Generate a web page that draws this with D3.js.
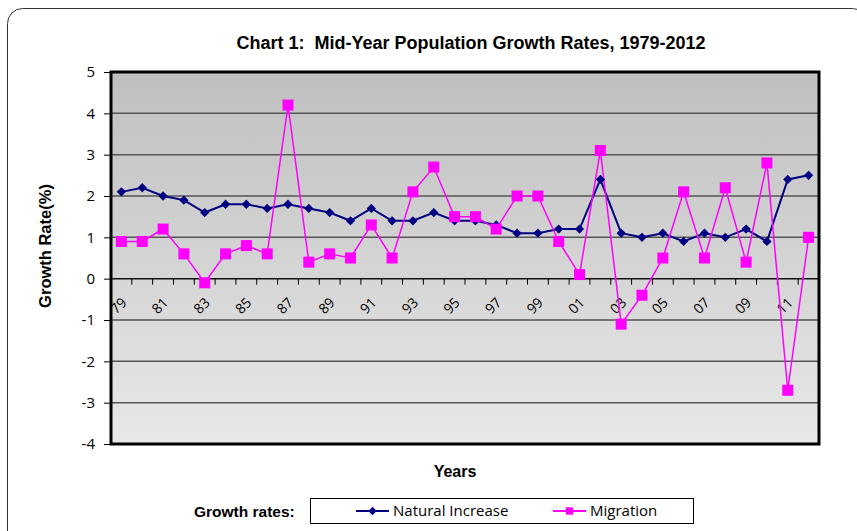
<!DOCTYPE html>
<html>
<head>
<meta charset="utf-8">
<script src="https://cdn.jsdelivr.net/npm/d3@7"></script>
<style>
  body { margin: 0; background: #fff; }
  text { font-family: "Liberation Sans", "DejaVu Sans", sans-serif; }
</style>
</head>
<body>
<div class="chart"></div>
<script>
// Årtal (etiketter) och serier
const years = ["79","80","81","82","83","84","85","86","87","88","89","90","91","92","93","94","95","96","97","98","99","00","01","02","03","04","05","06","07","08","09","10","11","12"];
const naturalIncrease = [2.1,2.2,2.0,1.9,1.6,1.8,1.8,1.7,1.8,1.7,1.6,1.4,1.7,1.4,1.4,1.6,1.4,1.4,1.3,1.1,1.1,1.2,1.2,2.4,1.1,1.0,1.1,0.9,1.1,1.0,1.2,0.9,2.4,2.5];
const migration = [0.9,0.9,1.2,0.6,-0.1,0.6,0.8,0.6,4.2,0.4,0.6,0.5,1.3,0.5,2.1,2.7,1.5,1.5,1.2,2.0,2.0,0.9,0.1,3.1,-1.1,-0.4,0.5,2.1,0.5,2.2,0.4,2.8,-2.7,1.0];
const yTicks = [-4,-3,-2,-1,0,1,2,3,4,5];
const xLabels = years.filter((d, i) => i % 2 === 0);

function createLineChart() {
    const W = 857, H = 531;
    const plot = { left: 111, right: 819, top: 72, bottom: 444 };

    const svg = d3.select("div.chart").append("svg")
        .attr("width", W)
        .attr("height", H);

    // Bakgrundsgradient
    const defs = svg.append("defs");
    const grad = defs.append("linearGradient")
        .attr("id", "bg").attr("x1", 0).attr("y1", 0).attr("x2", 0).attr("y2", 1);
    grad.append("stop").attr("offset", "0%").attr("stop-color", "#bfbfbf");
    grad.append("stop").attr("offset", "100%").attr("stop-color", "#e8e8e8");

    // Yttre ram
    svg.append("rect")
        .attr("x", 7.5).attr("y", 8.5)
        .attr("width", 860).attr("height", 540)
        .attr("rx", 15)
        .attr("fill", "none")
        .attr("stroke", "#333")
        .attr("stroke-width", 1);

    // Skalor
    const x = d3.scaleBand()
        .domain(years)
        .range([plot.left, plot.right]);

    const y = d3.scaleLinear()
        .domain([-4, 5])
        .range([plot.bottom, plot.top]);

    svg.append("rect")
        .attr("x", plot.left).attr("y", plot.top)
        .attr("width", plot.right - plot.left).attr("height", plot.bottom - plot.top)
        .attr("fill", "url(#bg)");

    // Rutnät
    svg.append("g")
        .selectAll("line")
        .data(yTicks.filter(d => d !== -4 && d !== 5))
        .enter().append("line")
        .attr("x1", plot.left).attr("x2", plot.right)
        .attr("y1", d => y(d)).attr("y2", d => y(d))
        .attr("stroke", d => d === 0 ? "#111" : "#555")
        .attr("stroke-width", 1.5);

    // y-axel
    const yAxis = svg.append("g")
        .attr("transform", `translate(${plot.left},0)`)
        .call(d3.axisLeft(y).tickValues(yTicks).tickSize(7).tickPadding(9).tickFormat(d => String(d)));
    yAxis.select(".domain").remove();
    yAxis.selectAll(".tick line").attr("stroke", "#000");
    yAxis.selectAll("text")
        .style("font-family", "'Open Sans', sans-serif")
        .style("font-size", "15px")
        .attr("fill", "#000");

    // x-axel vid noll
    const xAxis = svg.append("g")
        .attr("transform", `translate(0,${y(0)})`);
    xAxis.selectAll("line")
        .data(years.concat(["end"]))
        .enter().append("line")
        .attr("x1", (d, i) => plot.left + i * x.bandwidth())
        .attr("x2", (d, i) => plot.left + i * x.bandwidth())
        .attr("y1", 0).attr("y2", 6)
        .attr("stroke", "#000");

    xAxis.selectAll("text")
        .data(xLabels)
        .enter().append("text")
        .attr("transform", d => `translate(${x(d) + x.bandwidth() / 2 - 3},${27}) rotate(-45)`)
        .attr("text-anchor", "middle")
        .attr("dy", "0.35em")
        .style("font-family", "'Open Sans', sans-serif")
        .style("font-size", "14px")
        .attr("fill", "#000")
        .text(d => d);

    // Plotram
    svg.append("rect")
        .attr("x", plot.left).attr("y", plot.top)
        .attr("width", plot.right - plot.left).attr("height", plot.bottom - plot.top)
        .attr("fill", "none")
        .attr("stroke", "#000")
        .attr("stroke-width", 3);

    const cx = (d, i) => x(years[i]) + x.bandwidth() / 2;

    // Linjer
    const line = d3.line().x(cx).y(d => y(d));

    svg.append("path")
        .datum(naturalIncrease)
        .attr("d", line)
        .attr("fill", "none")
        .attr("stroke", "#000080")
        .attr("stroke-width", 2);

    svg.append("path")
        .datum(migration)
        .attr("d", line)
        .attr("fill", "none")
        .attr("stroke", "#ff00ff")
        .attr("stroke-width", 1.5);

    // Markörer
    svg.append("g").selectAll("path")
        .data(naturalIncrease)
        .enter().append("path")
        .attr("d", d3.symbol().type(d3.symbolDiamond2).size(55))
        .attr("transform", (d, i) => `translate(${cx(d, i)},${y(d)})`)
        .attr("fill", "#000080");

    svg.append("g").selectAll("rect")
        .data(migration)
        .enter().append("rect")
        .attr("x", (d, i) => cx(d, i) - 5.5)
        .attr("y", d => y(d) - 5.5)
        .attr("width", 11).attr("height", 11)
        .attr("fill", "#ff00ff");

    // Rubrik
    svg.append("text")
        .attr("x", 471).attr("y", 49)
        .attr("text-anchor", "middle")
        .style("font-size", "18px")
        .style("font-weight", "bold")
        .style("white-space", "pre")
        .text("Chart 1:  Mid-Year Population Growth Rates, 1979-2012");

    // Axeltitlar
    svg.append("text")
        .attr("transform", `translate(51,246) rotate(-90)`)
        .attr("text-anchor", "middle")
        .style("font-size", "16.5px")
        .style("font-weight", "bold")
        .text("Growth Rate(%)");

    svg.append("text")
        .attr("x", 455).attr("y", 477)
        .attr("text-anchor", "middle")
        .style("font-size", "16px")
        .style("font-weight", "bold")
        .text("Years");

    // Förklaring
    svg.append("text")
        .attr("x", 194).attr("y", 517)
        .style("font-size", "15.5px")
        .style("font-weight", "bold")
        .text("Growth rates:");

    svg.append("rect")
        .attr("x", 310.5).attr("y", 498.5)
        .attr("width", 383).attr("height", 25)
        .attr("fill", "#fff")
        .attr("stroke", "#000");

    const legend = [
        { name: "Natural Increase", color: "#000080", x: 356, marker: "diamond" },
        { name: "Migration", color: "#ff00ff", x: 553, marker: "square" }
    ];
    const lg = svg.append("g").selectAll("g")
        .data(legend)
        .enter().append("g")
        .attr("transform", d => `translate(${d.x},511)`);
    lg.append("line")
        .attr("x1", 0).attr("x2", 33)
        .attr("stroke", d => d.color)
        .attr("stroke-width", 2);
    lg.append("path")
        .attr("d", d => d3.symbol().type(d.marker === "diamond" ? d3.symbolDiamond2 : d3.symbolSquare2).size(d.marker === "diamond" ? 45 : 70)())
        .attr("transform", "translate(16.5,0)")
        .attr("fill", d => d.color);
    lg.append("text")
        .attr("x", 37).attr("dy", "0.35em")
        .style("font-family", "'Open Sans', sans-serif")
        .style("font-size", "15px")
        .text(d => d.name);
}

createLineChart();
</script>
</body>
</html>
